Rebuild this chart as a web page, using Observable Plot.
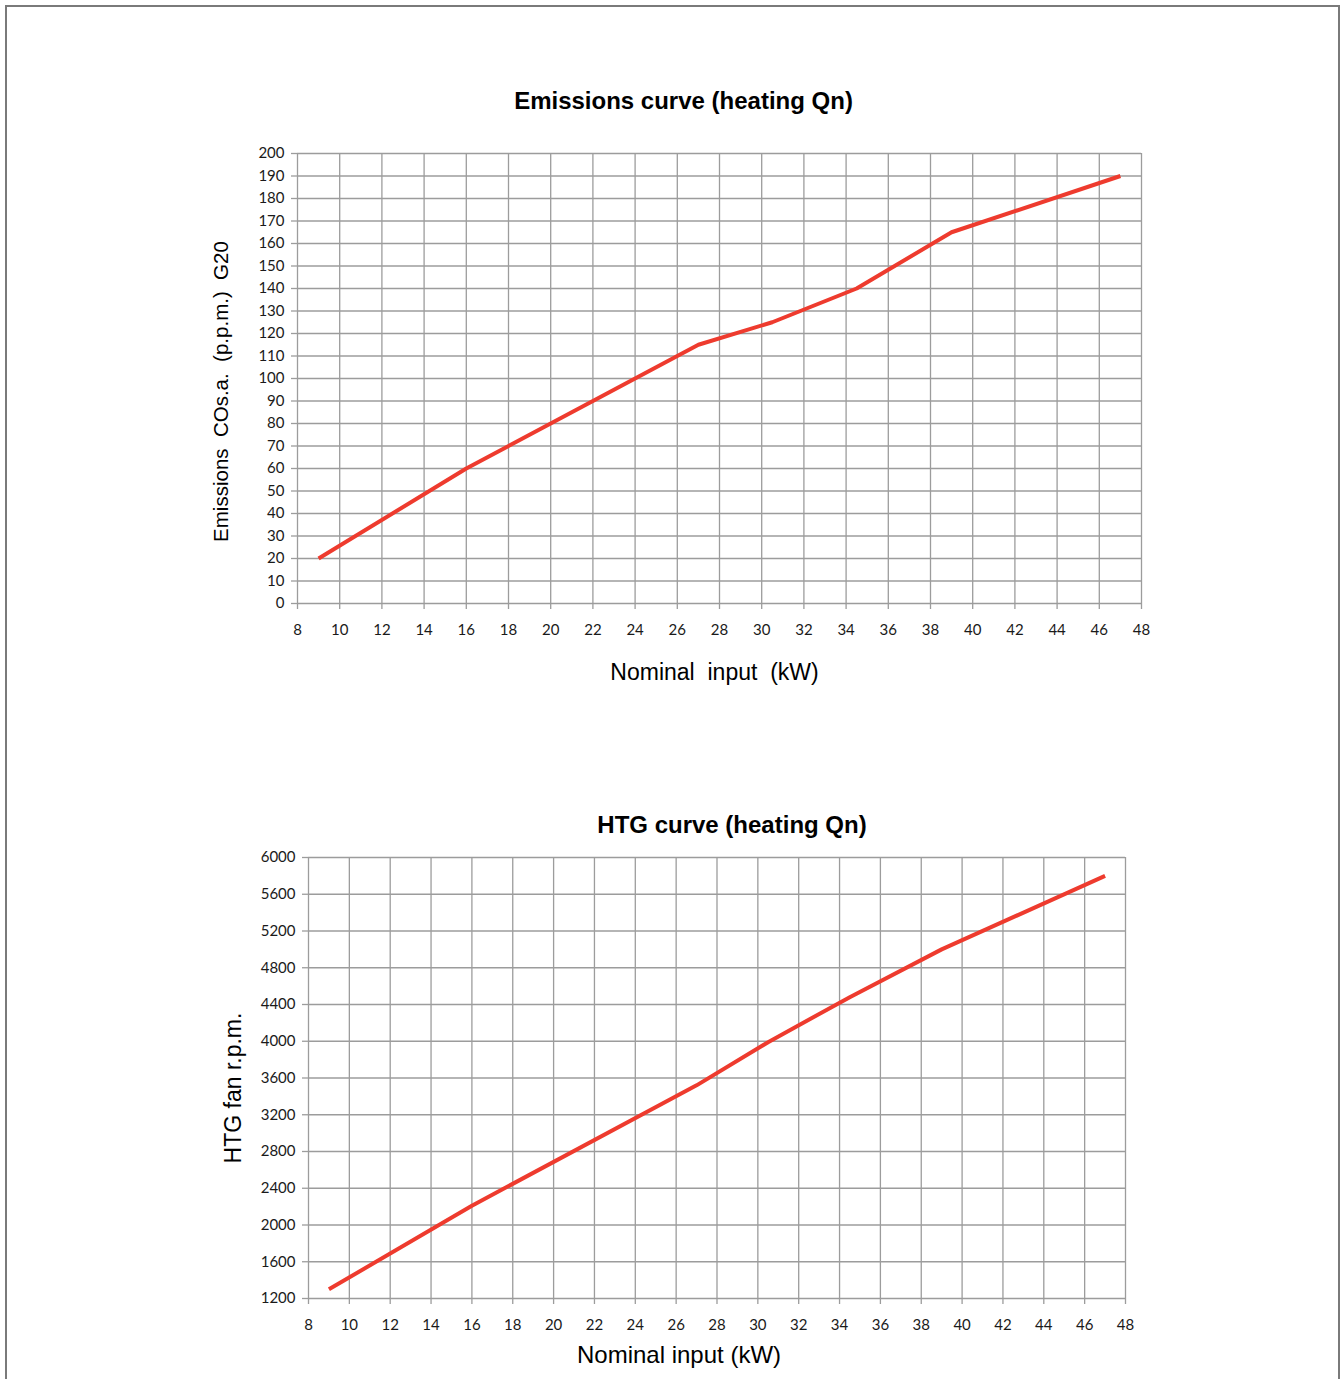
<!DOCTYPE html>
<html>
<head>
<meta charset="utf-8">
<script src="https://cdn.jsdelivr.net/npm/d3@7"></script>
<script src="https://cdn.jsdelivr.net/npm/@observablehq/plot@0.6"></script>
<style>
  html, body { margin: 0; padding: 0; background: #fff; overflow: hidden; }
  #page { position: relative; width: 1340px; height: 1379px; overflow: hidden; }
  #frame { position: absolute; left: 5px; top: 5px; width: 1335px; height: 1420px;
           box-sizing: border-box; border: 2px solid #7a7a7a; }
  .chart { position: absolute; left: 0; }
</style>
</head>
<body>
<div id="page">
  <div id="frame"></div>
  <div id="c1" class="chart" style="top:60px"></div>
  <div id="c2" class="chart" style="top:780px"></div>
</div>
<script>
// ---- data ----
const xTicks = [8, 10, 12, 14, 16, 18, 20, 22, 24, 26, 28, 30, 32, 34, 36, 38, 40, 42, 44, 46, 48];

const emissionsInput = [9, 16, 27, 30.5, 34.5, 39, 47];
const emissionsPpm   = [20, 60, 115, 125, 140, 165, 190];
const emissionsTicks = [0, 10, 20, 30, 40, 50, 60, 70, 80, 90, 100, 110, 120, 130, 140, 150, 160, 170, 180, 190, 200];

const fanInput = [9, 16, 27, 30.5, 34.5, 39, 47];
const fanRpm   = [1300, 2210, 3520, 3990, 4480, 5000, 5800];
const fanTicks = [1200, 1600, 2000, 2400, 2800, 3200, 3600, 4000, 4400, 4800, 5200, 5600, 6000];

const title1 = "Emissions curve (heating Qn)";
const yLabel1 = "Emissions\u00a0 COs.a.\u00a0 (p.p.m.)\u00a0 G20";
const xLabel1 = "Nominal\u00a0 input\u00a0 (kW)";
const title2 = "HTG curve (heating Qn)";
const yLabel2 = "HTG fan r.p.m.";
const xLabel2 = "Nominal input (kW)";

const emissions = emissionsInput.map((x, i) => ({x, y: emissionsPpm[i]}));
const fan = fanInput.map((x, i) => ({x, y: fanRpm[i]}));

const GRID = "#9c9c9c";
const RED = "#ee3b2e";
const SANS = "'Liberation Sans', Arial, Helvetica, sans-serif";

function chart(o) {
  return Plot.plot({
    width: 1340,
    height: o.height,
    marginLeft: o.left,
    marginRight: o.right,
    marginTop: o.top,
    marginBottom: o.bottom,
    style: {fontFamily: "Lato, 'Noto Sans', sans-serif", fontSize: "15px", color: "#1a1a1a", background: "transparent", overflow: "visible"},
    x: {domain: [8, 48], label: null},
    y: {domain: o.yDomain, label: null},
    marks: [
      Plot.ruleX(xTicks, {stroke: GRID, strokeWidth: 1.3}),
      Plot.ruleY(o.yTicks, {stroke: GRID, strokeWidth: 1.3}),
      Plot.axisX(xTicks, {tickSize: 6, tickPadding: 15, stroke: GRID, strokeWidth: 1.3, fill: "#1a1a1a", label: null, tickFormat: d => String(d)}),
      Plot.axisY(o.yTicks, {tickSize: 6, tickPadding: 7, stroke: GRID, strokeWidth: 1.3, fill: "#1a1a1a", label: null, tickFormat: d => String(d)}),
      Plot.line(o.data, {x: "x", y: "y", stroke: RED, strokeWidth: 4, strokeLinejoin: "miter", strokeLinecap: "butt"}),
      Plot.text([o.title], {frameAnchor: "top", textAnchor: "middle", lineAnchor: "middle", dx: o.titleDx, dy: o.titleDy, fontSize: 24, fontWeight: "bold", fontFamily: SANS, fill: "#000"}),
      Plot.text([o.xLabel], {frameAnchor: "bottom", textAnchor: "middle", lineAnchor: "middle", dx: o.xLabelDx, dy: o.xLabelDy, fontSize: o.xLabelSize, fontFamily: SANS, fill: "#000"}),
      Plot.text([o.yLabel], {frameAnchor: "left", textAnchor: "middle", lineAnchor: "middle", rotate: -90, dx: o.yLabelDx, dy: o.yLabelDy, fontSize: o.yLabelSize, fontFamily: SANS, fill: "#000"})
    ]
  });
}

document.getElementById("c1").append(chart({
  height: 650, left: 297, right: 199, top: 93, bottom: 107,
  yDomain: [0, 200], yTicks: emissionsTicks, data: emissions,
  title: title1, titleDx: -36, titleDy: -52,
  xLabel: xLabel1, xLabelDx: -5, xLabelDy: 69, xLabelSize: 23,
  yLabel: yLabel1, yLabelDx: -76, yLabelDy: 13, yLabelSize: 20.5
}));

document.getElementById("c2").append(chart({
  height: 599, left: 308, right: 215, top: 77, bottom: 81,
  yDomain: [1200, 6000], yTicks: fanTicks, data: fan,
  title: title2, titleDx: 15, titleDy: -32,
  xLabel: xLabel2, xLabelDx: -38, xLabelDy: 57, xLabelSize: 24,
  yLabel: yLabel2, yLabelDx: -75, yLabelDy: 10, yLabelSize: 23
}));
</script>
</body>
</html>
